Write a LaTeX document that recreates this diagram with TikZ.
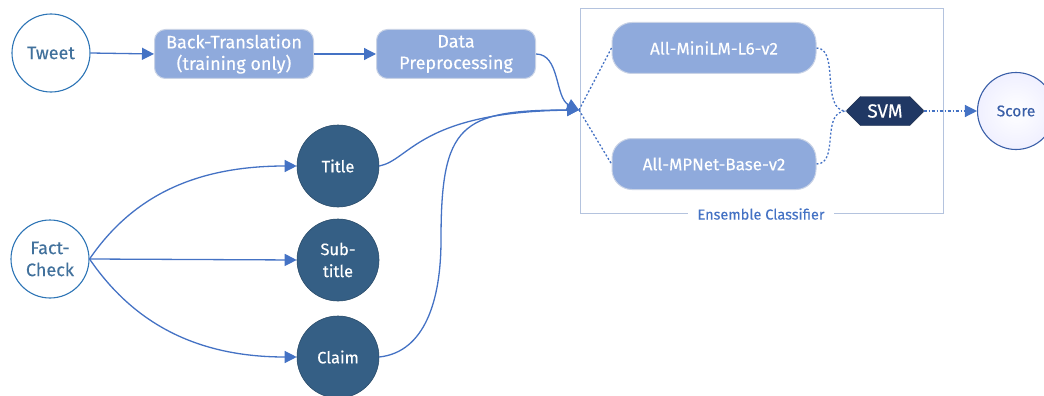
\documentclass[tikz,border=0pt]{standalone}
\usepackage{fontspec}
\setmainfont{Fira Sans}[FakeBold=0.25,AutoFakeBold=0.25]
\usetikzlibrary{arrows.meta,shapes.misc,calc}
\definecolor{conn}{HTML}{4472C4}
\definecolor{boxfill}{HTML}{8FAADC}
\definecolor{boxline}{HTML}{C9D3E6}
\definecolor{darkc}{HTML}{355F85}
\definecolor{svmc}{HTML}{203864}
\definecolor{ringc}{HTML}{2E75B6}
\definecolor{ringtxt}{HTML}{41719C}
\definecolor{scorec}{HTML}{3A5FA8}
\definecolor{enscol}{HTML}{B4C3DE}
\tikzset{
  lightcirc/.style={circle,draw=ringc,line width=1.1pt,fill=white,minimum size=78pt,inner sep=0pt,text=ringtxt,font=\fontsize{18}{22}\selectfont,align=center},
  darkcirc/.style={circle,draw=darkc!80!black,line width=0.6pt,fill=darkc,minimum size=82pt,inner sep=0pt,text=white,font=\fontsize{16.5}{22}\selectfont,align=center},
  smallbox/.style={rectangle,rounded corners=11pt,draw=boxline,line width=1pt,fill=boxfill,text=white,minimum width=159pt,minimum height=49pt,inner sep=0pt,align=center,font=\fontsize{18}{21.5}\selectfont},
  bigbox/.style={rectangle,rounded corners=20pt,draw=boxline,line width=1pt,fill=boxfill,text=white,minimum width=204pt,minimum height=51pt,inner sep=0pt,align=center,font=\fontsize{17}{18}\selectfont},
  svmbox/.style={chamfered rectangle,chamfered rectangle xsep=7pt,chamfered rectangle ysep=7pt,draw=svmc!70!black,fill=svmc,text=white,minimum width=77pt,minimum height=29pt,inner sep=0pt,font=\fontsize{19}{20}\selectfont},
  scorecirc/.style={circle,draw=scorec,line width=1.1pt,inner color=white,outer color=blue!6,minimum size=77pt,inner sep=0pt,text=scorec,font=\fontsize{15.5}{16}\selectfont},
  flow/.style={draw=conn,line width=1.3pt,-{Triangle[length=12pt,width=12pt]}},
  dotl/.style={draw=conn,line width=1.3pt,dash pattern=on 2pt off 2pt},
}
\begin{document}
\begin{tikzpicture}[x=1pt,y=-1pt]
\useasboundingbox (0,0) rectangle (1044,396);
% ensemble frame
\draw[enscol,line width=1pt] (580,9) rectangle (943,213);
\node[fill=white,text=conn,font=\fontsize{14.5}{15}\selectfont,inner xsep=10pt,inner ysep=2pt] (ens) at (761,214) {Ensemble Classifier};

\node[lightcirc] (tweet) at (51,53) {Tweet};
\node[smallbox] (bt) at (234,54) {Back-Translation\\(training only)};
\node[smallbox] (dp) at (456,54) {Data\\Preprocessing};
\node[lightcirc] (fc) at (50,259) {Fact-\\Check};
\node[darkcirc] (title) at (338,166) {Title};
\node[darkcirc] (sub) at (338,260) {Sub-\\title};
\node[darkcirc] (claim) at (338,357) {Claim};
\node[bigbox] (mini) at (714,48) {All-MiniLM-L6-v2};
\node[bigbox] (mpnet) at (714,164) {All-MPNet-Base-v2};
\node[svmbox] (svm) at (885,111) {SVM};
\node[scorecirc] (score) at (1016,111) {Score};
\coordinate (merge) at (579,110);

\draw[flow] (tweet.east) -- (bt.west);
\draw[flow] (bt.east) -- (dp.west);
\draw[flow] (dp.east) .. controls (560,54) and (555,98) .. (merge);
\draw[flow] (title.east) .. controls (410,160) and (420,112) .. (merge);
\draw[flow] (claim.east) .. controls (425,352) and (441,300) .. (441,240)
   .. controls (441,125) and (460,110) .. (merge);

\draw[flow] (fc.east) .. controls (130,200) and (190,166) .. (title.west);
\draw[flow] (fc.east) -- (sub.west);
\draw[flow] (fc.east) .. controls (130,318) and (190,357) .. (claim.west);

\draw[dotl] (merge) -- (mini.west);
\draw[dotl] (merge) -- (mpnet.west);
\draw[dotl] (mini.east) .. controls (840,48) and (820,111) .. (svm.west);
\draw[dotl] (mpnet.east) .. controls (840,164) and (820,111) .. (svm.west);
\draw[conn,line width=1.3pt,dash pattern=on 3pt off 2pt on 1pt off 2pt,-{Triangle[length=12pt,width=12pt]}] (svm.east) -- (score.west);
\end{tikzpicture}
\end{document}
